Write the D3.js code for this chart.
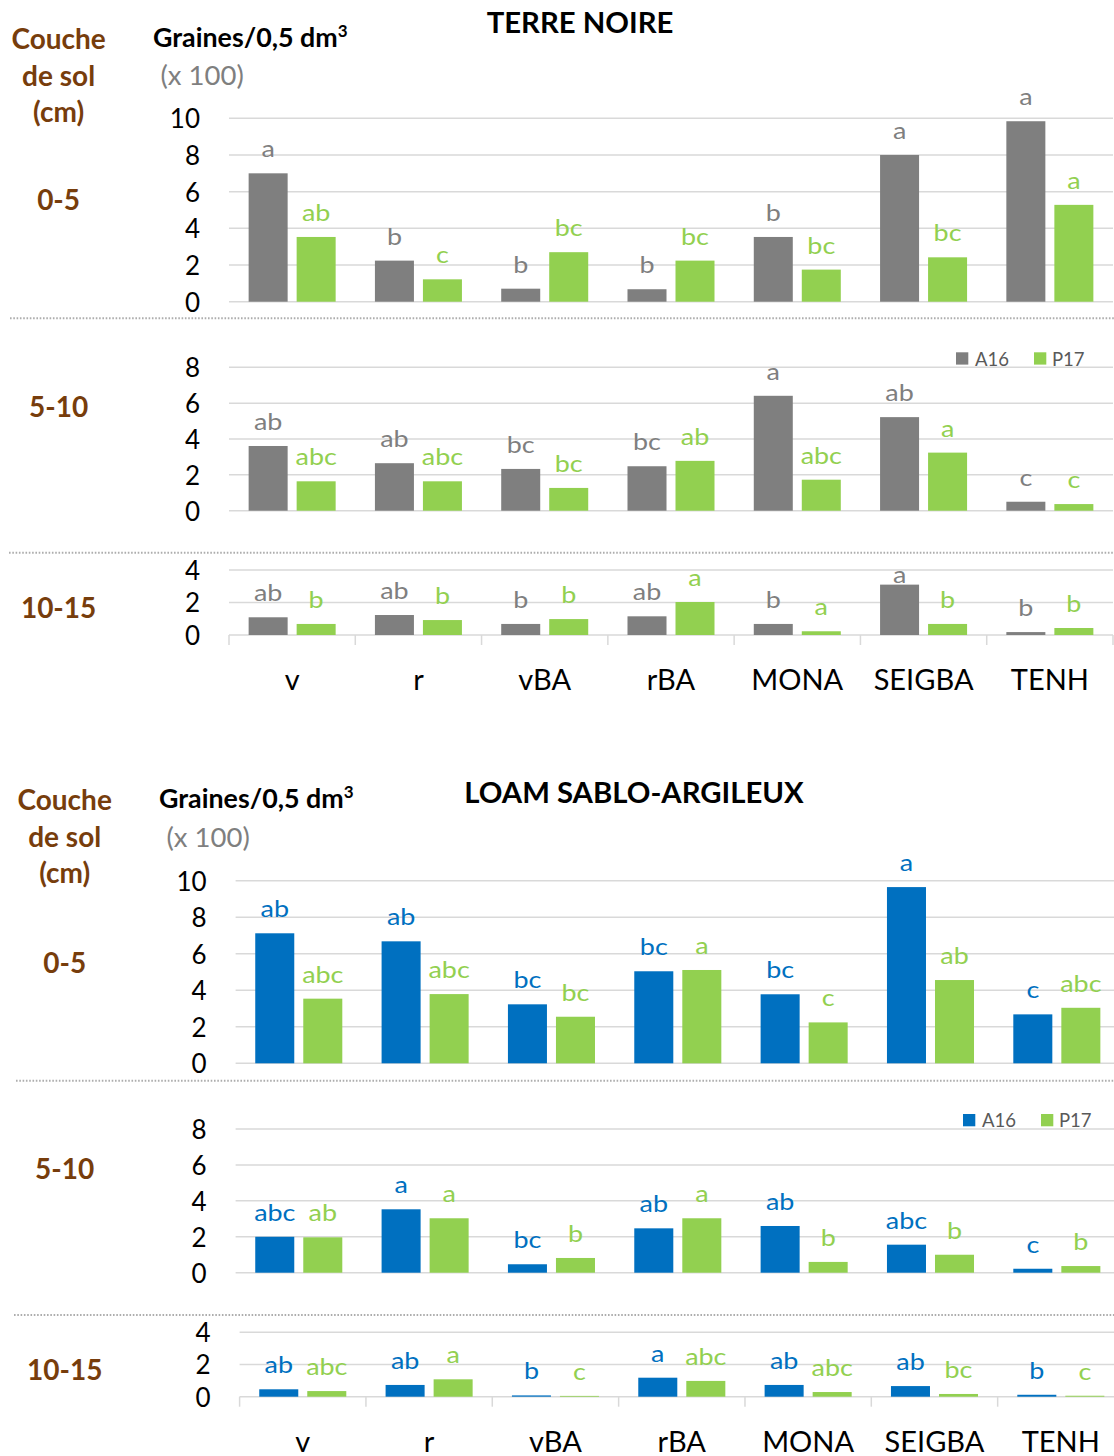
<!DOCTYPE html>
<html>
<head>
<meta charset="utf-8">
<script src="https://cdn.jsdelivr.net/npm/d3@7"></script>
<style>
  body { margin: 0; background: #fff; }
  svg { display: block; font-family: Lato, "Open Sans", sans-serif; }
</style>
</head>
<body>
<svg id="chart" width="1114" height="1456"></svg>
<script>
// ---- Data: seeds per 0.5 dm3 (x 100), by soil layer and sampling date ----
const categories = ["v", "r", "vBA", "rBA", "MONA", "SEIGBA", "TENH"];
const series = ["A16", "P17"];
const layerNames = ["0-5", "5-10", "10-15"];
const yMaxByLayer = [10, 8, 4];

// TERRE NOIRE
const tn05A16 = [7.0, 2.24, 0.71, 0.68, 3.53, 8.0, 9.84];
const tn05P17 = [3.53, 1.22, 2.7, 2.24, 1.75, 2.42, 5.28];
const tn510A16 = [3.61, 2.65, 2.33, 2.48, 6.41, 5.22, 0.5];
const tn510P17 = [1.64, 1.64, 1.27, 2.78, 1.73, 3.24, 0.37];
const tn1015A16 = [1.09, 1.23, 0.68, 1.15, 0.68, 3.1, 0.18];
const tn1015P17 = [0.68, 0.92, 0.98, 2.03, 0.23, 0.68, 0.43];

const tn05A16Letters = ["a", "b", "b", "b", "b", "a", "a"];
const tn05P17Letters = ["ab", "c", "bc", "bc", "bc", "bc", "a"];
const tn510A16Letters = ["ab", "ab", "bc", "bc", "a", "ab", "c"];
const tn510P17Letters = ["abc", "abc", "bc", "ab", "abc", "a", "c"];
const tn1015A16Letters = ["ab", "ab", "b", "ab", "b", "a", "b"];
const tn1015P17Letters = ["b", "b", "b", "a", "a", "b", "b"];

// LOAM SABLO-ARGILEUX
const lsa05A16 = [7.12, 6.68, 3.23, 5.04, 3.78, 9.65, 2.68];
const lsa05P17 = [3.54, 3.79, 2.55, 5.11, 2.24, 4.56, 3.04];
const lsa510A16 = [2.0, 3.53, 0.47, 2.47, 2.6, 1.56, 0.22];
const lsa510P17 = [1.97, 3.03, 0.82, 3.03, 0.6, 1.0, 0.37];
const lsa1015A16 = [0.46, 0.73, 0.08, 1.18, 0.73, 0.66, 0.12];
const lsa1015P17 = [0.35, 1.08, 0.05, 0.98, 0.29, 0.17, 0.06];

const lsa05A16Letters = ["ab", "ab", "bc", "bc", "bc", "a", "c"];
const lsa05P17Letters = ["abc", "abc", "bc", "a", "c", "ab", "abc"];
const lsa510A16Letters = ["abc", "a", "bc", "ab", "ab", "abc", "c"];
const lsa510P17Letters = ["ab", "a", "b", "a", "b", "b", "b"];
const lsa1015A16Letters = ["ab", "ab", "b", "a", "ab", "ab", "b"];
const lsa1015P17Letters = ["abc", "a", "c", "abc", "abc", "bc", "c"];

// ---- Styling ----
const GREEN = "#92D050";
const GRID = "#D9D9D9";
const BROWN = "#773D0C";
const LABEL_SX = 1.17;   // horizontal stretch of the letter labels

const svg = d3.select("#chart");

const panels = [
  {
    title: "TERRE NOIRE", titleX: 580, titleY: 32.5,
    a16Color: "#7F7F7F",
    headX: 58.6, headY: [49.3, 86, 121.7],
    unitX: 153, unitY: 46.7, multX: 160.5, multY: 85,
    seps: [{ y: 318.3, x: 10 }, { y: 552.7, x: 9 }],
    layers: [
      { a16: tn05A16, p17: tn05P17, a16L: tn05A16Letters, p17L: tn05P17Letters,
        x0: 229, x1: 1113, y0: 301.7, yTop: 118.3, nameY: 210 },
      { a16: tn510A16, p17: tn510P17, a16L: tn510A16Letters, p17L: tn510P17Letters,
        x0: 229, x1: 1113, y0: 510.7, yTop: 367.3, nameY: 416.7, legend: true },
      { a16: tn1015A16, p17: tn1015P17, a16L: tn1015A16Letters, p17L: tn1015P17Letters,
        x0: 229, x1: 1113, y0: 635, yTop: 570, nameY: 618.3, clamp: true, axis: true }
    ]
  },
  {
    title: "LOAM SABLO-ARGILEUX", titleX: 634, titleY: 802.7,
    a16Color: "#0070C0",
    headX: 64.7, headY: [810, 846.7, 882.7],
    unitX: 159, unitY: 808.3, multX: 166.5, multY: 846.7,
    seps: [{ y: 1080.7, x: 16 }, { y: 1315, x: 14 }],
    layers: [
      { a16: lsa05A16, p17: lsa05P17, a16L: lsa05A16Letters, p17L: lsa05P17Letters,
        x0: 235.6, x1: 1120, y0: 1063.3, yTop: 880.7, nameY: 973.3 },
      { a16: lsa510A16, p17: lsa510P17, a16L: lsa510A16Letters, p17L: lsa510P17Letters,
        x0: 235.6, x1: 1120, y0: 1272.7, yTop: 1129, nameY: 1179, legend: true },
      { a16: lsa1015A16, p17: lsa1015P17, a16L: lsa1015A16Letters, p17L: lsa1015P17Letters,
        x0: 239.6, x1: 1124, y0: 1396.7, yTop: 1332.3, nameY: 1380, clamp: true, axis: true }
    ]
  }
];

panels.forEach(panel => {
  const g = svg.append("g");
  const colorOf = s => (s === "A16" ? panel.a16Color : GREEN);

  // Title
  g.append("text")
    .attr("x", panel.titleX).attr("y", panel.titleY)
    .attr("text-anchor", "middle")
    .attr("font-weight", 700).attr("font-size", 29.3).attr("fill", "#000")
    .text(panel.title);

  // Layer heading
  ["Couche", "de sol", "(cm)"].forEach((t, i) => {
    g.append("text")
      .attr("x", panel.headX).attr("y", panel.headY[i])
      .attr("text-anchor", "middle")
      .attr("font-weight", 700).attr("font-size", 28).attr("fill", BROWN)
      .text(t);
  });

  // Unit label
  const unit = g.append("text")
    .attr("x", panel.unitX).attr("y", panel.unitY)
    .attr("font-weight", 700).attr("font-size", 26.8).attr("fill", "#000");
  unit.append("tspan").text("Graines/0,5 dm");
  unit.append("tspan").attr("font-size", 17).attr("dy", -10).text("3");

  g.append("text")
    .attr("x", panel.multX).attr("y", panel.multY)
    .attr("font-size", 27.5).attr("fill", "#7F7F7F")
    .text("(x 100)");

  // Dotted separators between layers
  panel.seps.forEach(s => {
    g.append("line")
      .attr("x1", s.x).attr("x2", 1114)
      .attr("y1", s.y).attr("y2", s.y)
      .attr("stroke", "#ADADAD").attr("stroke-width", 2)
      .attr("stroke-dasharray", "1.6,1.7");
  });

  panel.layers.forEach((L, li) => {
    const yMax = yMaxByLayer[li];
    const ticks = d3.range(0, yMax + 1, 2);
    const y = d3.scaleLinear().domain([0, yMax]).range([L.y0, L.yTop]);
    const x = d3.scaleBand().domain(categories).range([L.x0, L.x1]).padding(0);
    const slot = x.bandwidth();
    const xs = d3.scaleBand().domain(series)
      .range([slot * 0.1555, slot * (1 - 0.1555)])
      .paddingInner(0.1875);

    const lg = g.append("g");

    // Layer name
    lg.append("text")
      .attr("x", panel.headX).attr("y", L.nameY)
      .attr("text-anchor", "middle")
      .attr("font-weight", 700).attr("font-size", 28).attr("fill", BROWN)
      .text(layerNames[li]);

    // Gridlines
    lg.append("g").selectAll("line").data(ticks).join("line")
      .attr("x1", L.x0).attr("x2", L.x1)
      .attr("y1", d => y(d)).attr("y2", d => y(d))
      .attr("stroke", GRID).attr("stroke-width", 1.5);

    // Y axis
    const ya = lg.append("g")
      .attr("transform", `translate(${L.x0},0)`)
      .call(d3.axisLeft(y).tickValues(ticks).tickSize(0).tickPadding(29).tickFormat(d3.format("d")));
    ya.attr("font-family", null).attr("font-size", null);
    ya.select(".domain").remove();
    ya.selectAll("text").attr("font-size", 26).attr("fill", "#000").attr("dy", "0.36em");

    // Bars
    const rows = categories.flatMap((c, i) => [
      { c, s: "A16", v: L.a16[i], lab: L.a16L[i] },
      { c, s: "P17", v: L.p17[i], lab: L.p17L[i] }
    ]);
    lg.append("g").selectAll("rect").data(rows).join("rect")
      .attr("x", d => x(d.c) + xs(d.s))
      .attr("width", xs.bandwidth())
      .attr("y", d => y(d.v))
      .attr("height", d => y(0) - y(d.v))
      .attr("fill", d => colorOf(d.s));

    // Letter labels above the bars
    const ceil = y(yMax) + 13;
    lg.append("g").selectAll("text").data(rows).join("text")
      .attr("transform", d => {
        const cx = x(d.c) + xs(d.s) + xs.bandwidth() / 2;
        let by = y(d.v) - 16;
        if (L.clamp) by = Math.max(by, ceil);
        return `translate(${cx},${by}) scale(${LABEL_SX},1)`;
      })
      .attr("text-anchor", "middle")
      .attr("font-size", 23)
      .attr("fill", d => colorOf(d.s))
      .text(d => d.lab);

    // Legend
    if (L.legend) {
      const items = [
        { s: "A16", x: L.x1 - 157, tx: 19 },
        { s: "P17", x: L.x1 - 79, tx: 18 }
      ];
      const leg = lg.append("g");
      items.forEach(it => {
        leg.append("rect")
          .attr("x", it.x).attr("y", L.yTop - 15)
          .attr("width", 12.3).attr("height", 12.3)
          .attr("fill", colorOf(it.s));
        leg.append("text")
          .attr("x", it.x + it.tx).attr("y", L.yTop - 1.8)
          .attr("font-size", 18.5).attr("fill", "#595959")
          .text(it.s);
      });
    }

    // Category axis
    if (L.axis) {
      const bounds = categories.map(c => x(c)).concat([L.x1]);
      lg.append("g").selectAll("line").data(bounds).join("line")
        .attr("x1", d => d).attr("x2", d => d)
        .attr("y1", L.y0).attr("y2", L.y0 + 10)
        .attr("stroke", GRID).attr("stroke-width", 1.5);

      const xa = lg.append("g")
        .attr("transform", `translate(0,${L.y0})`)
        .call(d3.axisBottom(x).tickSize(0));
      xa.attr("font-family", null).attr("font-size", null);
      xa.select(".domain").remove();
      xa.selectAll("text")
        .attr("y", 55).attr("dy", 0)
        .attr("font-size", 29).attr("fill", "#000");
    }
  });
});
</script>
</body>
</html>
